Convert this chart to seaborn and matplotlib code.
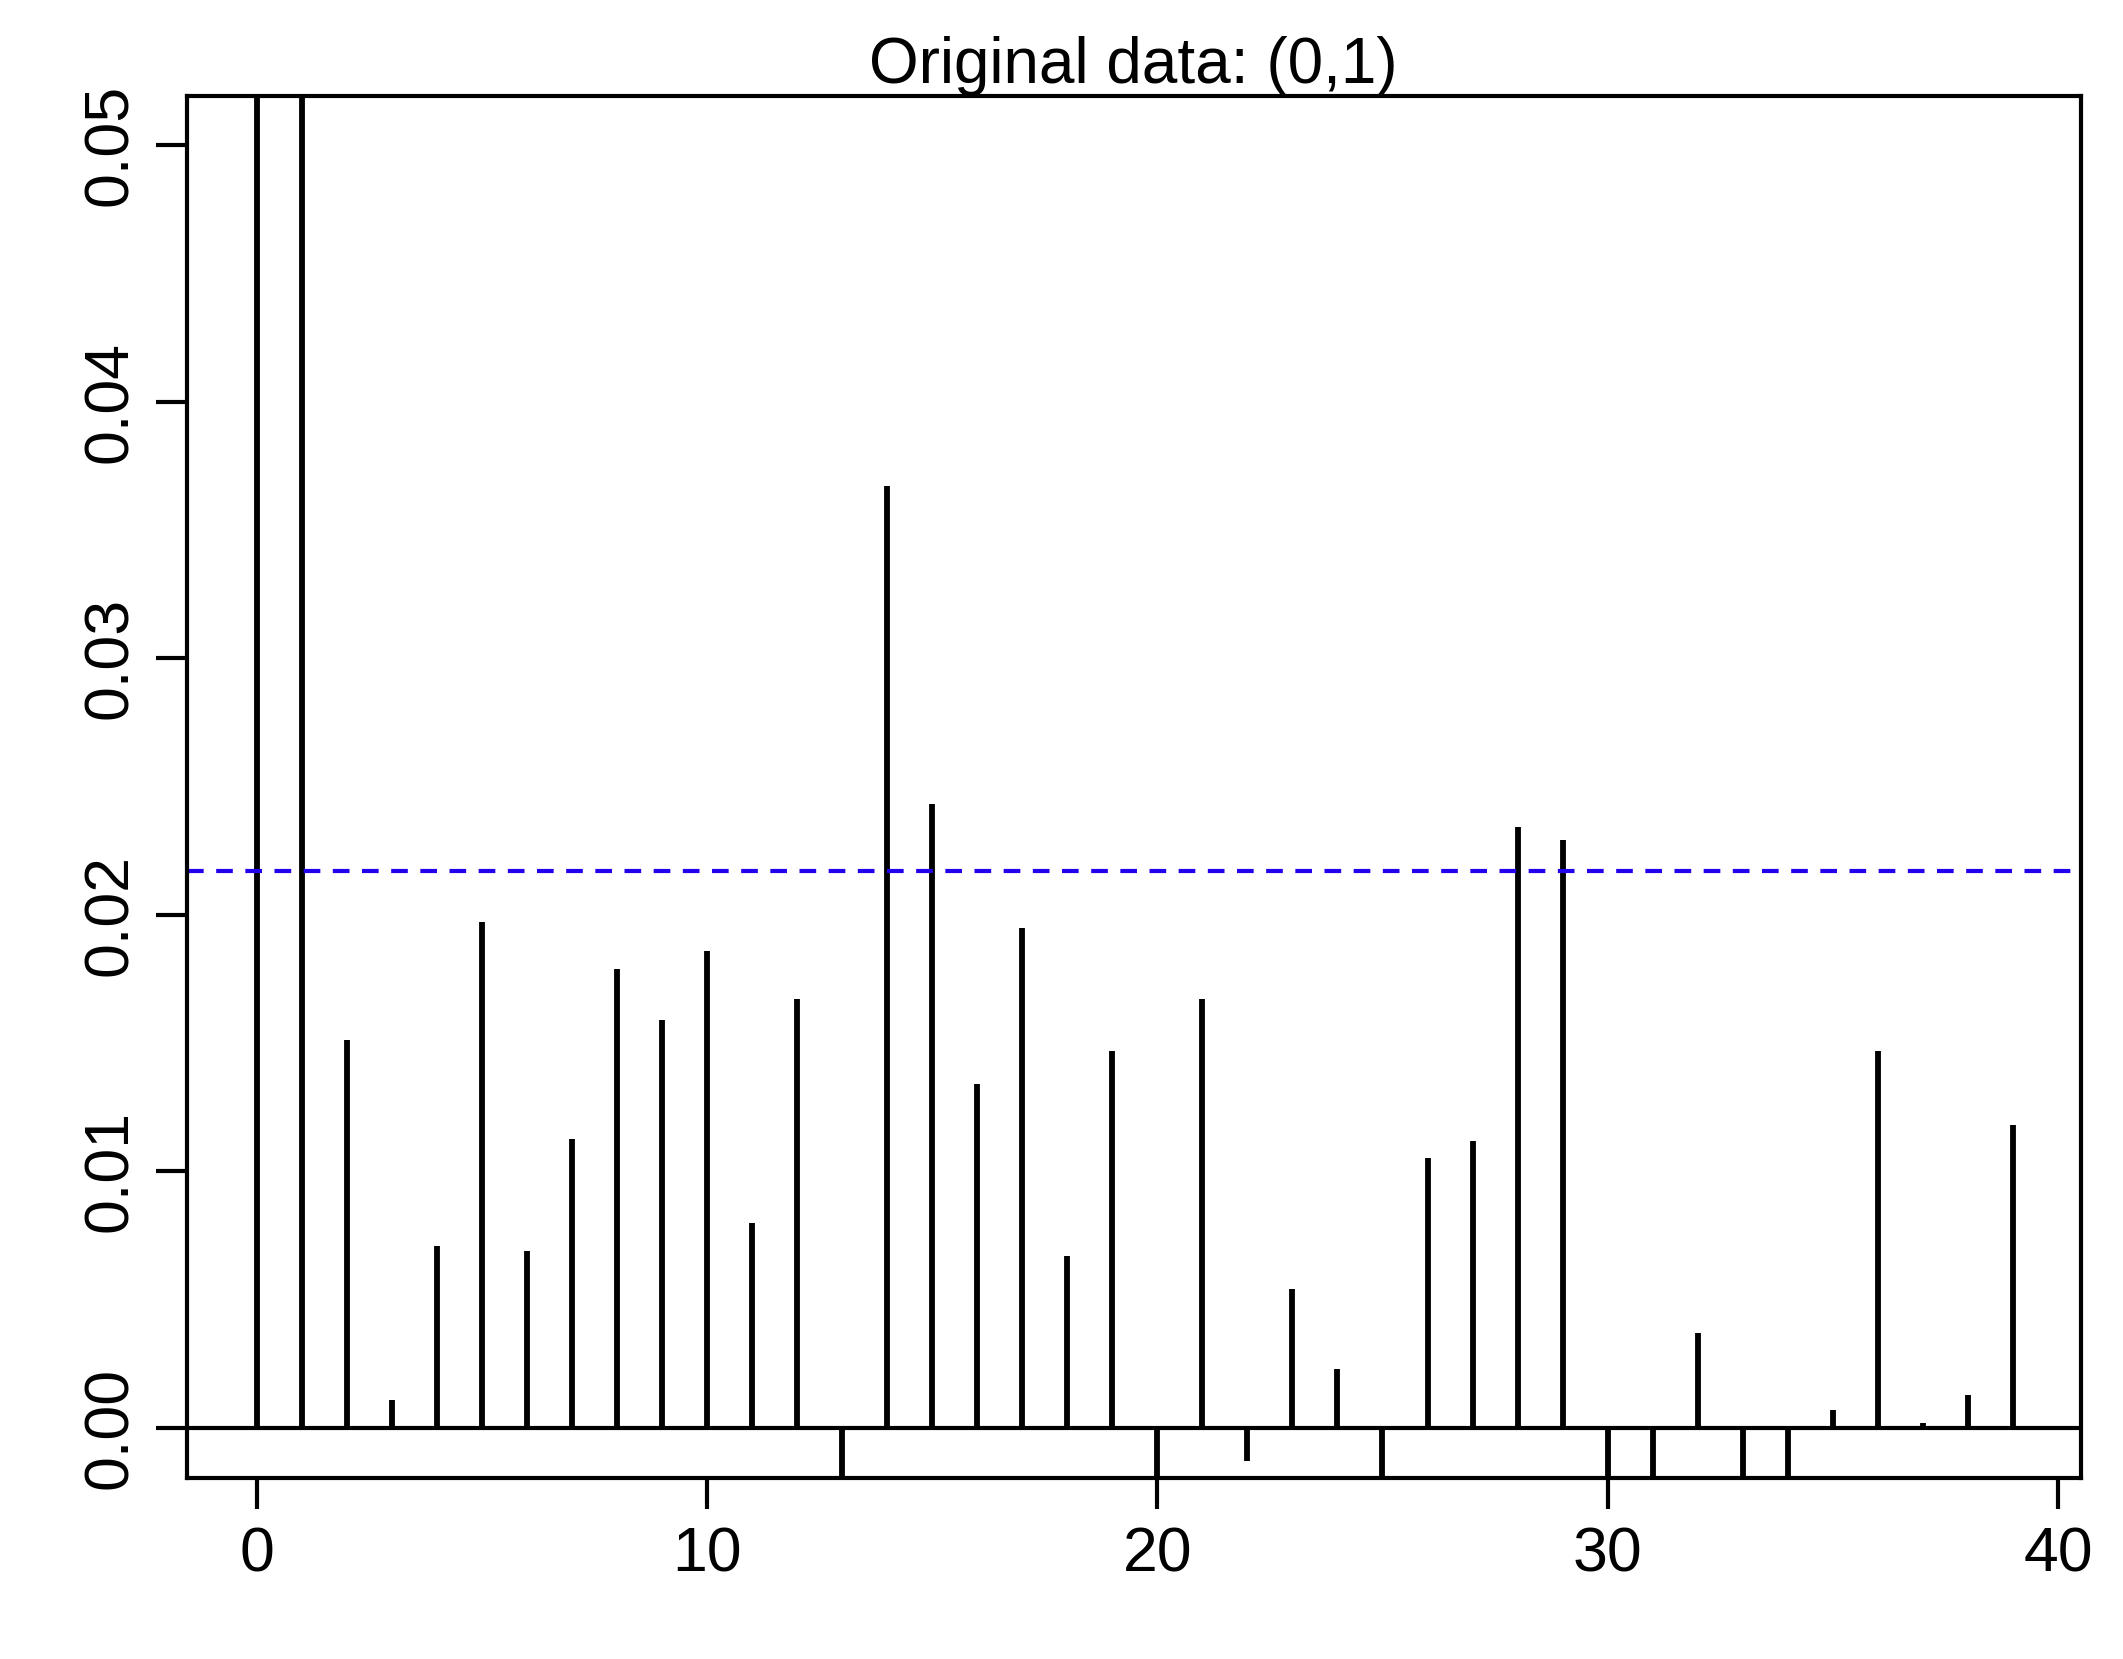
import matplotlib
matplotlib.use("Agg")
import matplotlib.pyplot as plt
import seaborn as sns
import numpy as np

lags = list(range(40))
acf = [1.0, 0.9, 0.0151, 0.0011, 0.0071, 0.0197, 0.0069, 0.01125, 0.0179, 0.0159,
       0.0186, 0.0080, 0.0167, -0.01, 0.0367, 0.0243, 0.0134, 0.0195, 0.0067, 0.0147,
       -0.01, 0.0167, -0.0013, 0.0054, 0.0023, -0.01, 0.0105, 0.0112, 0.0234, 0.0229,
       -0.01, -0.01, 0.0037, -0.01, -0.01, 0.0007, 0.0147, 0.0002, 0.0013, 0.0118]
ci = 0.0217
title = "Original data: (0,1)"

sns.set_style("ticks")
plt.rcParams['font.family'] = ['Liberation Sans', 'DejaVu Sans']
fig = plt.figure(figsize=(21.23, 16.59), dpi=100)
ax = fig.add_axes([0.088, 0.109, 0.898 - 0.006, 0.833])
ax.vlines(lags, 0, acf, colors='black', linewidth=4.2)
ax.axhline(0, color='black', linewidth=3)
ax.axhline(ci, color='#2200ee', linestyle=(0, (4, 3)), linewidth=3)
ax.set_xlim(-1.55, 40.5)
ax.set_ylim(-0.00196, 0.0519)
ax.set_xticks([0, 10, 20, 30, 40])
ax.set_yticks([0, 0.01, 0.02, 0.03, 0.04, 0.05])
ax.set_yticklabels(["0.00", "0.01", "0.02", "0.03", "0.04", "0.05"], rotation=90, va='center')
ax.tick_params(labelsize=45, width=3, length=22, pad=12, color='black', labelcolor='black')
for s in ax.spines.values():
    s.set_linewidth(3)
    s.set_color('black')
ax.set_title(title, fontsize=46, pad=8, color='black')
fig.savefig("out.png", dpi=100)
